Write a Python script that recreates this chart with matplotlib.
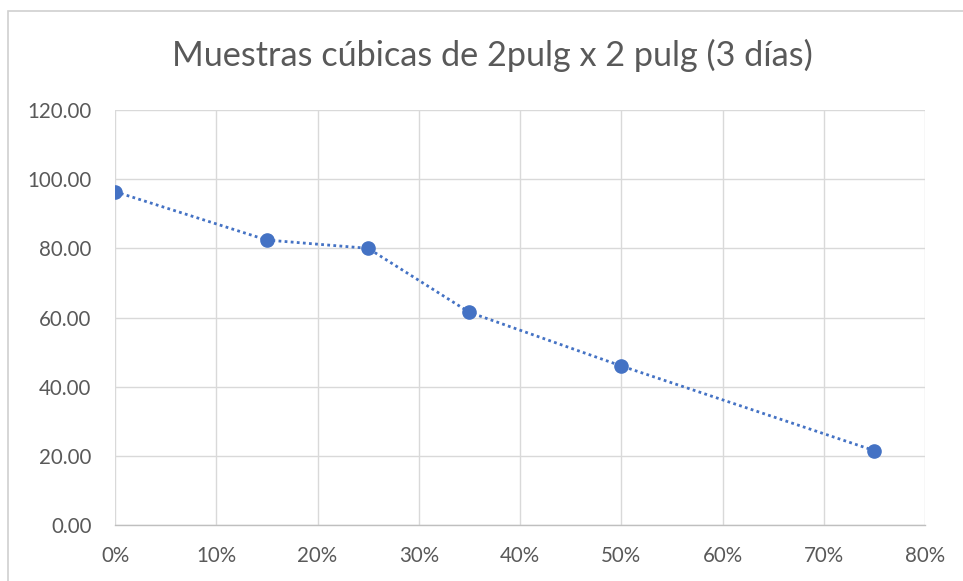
import matplotlib
matplotlib.use("Agg")
import matplotlib.pyplot as plt
from matplotlib.patches import Rectangle
from matplotlib.ticker import FuncFormatter

# Data: share of replacement (x) vs. compressive strength (y)
replacement = [0.00, 0.15, 0.25, 0.35, 0.50, 0.75]
strength = [96.4, 82.4, 80.0, 61.5, 46.0, 21.5]

title = "Muestras cúbicas de 2pulg x 2 pulg (3 días)"
x_ticks = [0.0, 0.1, 0.2, 0.3, 0.4, 0.5, 0.6, 0.7, 0.8]
y_ticks = [0, 20, 40, 60, 80, 100, 120]

text_color = "#595959"
grid_color = "#d9d9d9"
series_color = "#4472c4"

plt.rcParams["font.family"] = ["Lato", "DejaVu Sans"]

fig = plt.figure(figsize=(9.63, 5.81), dpi=100)
fig.patch.set_facecolor("white")

# chart frame
fig.patches.append(Rectangle((8 / 963, -0.05), 1.2, 1 - 11 / 581 + 0.05,
                             transform=fig.transFigure, fill=False,
                             edgecolor="#d0d0d0", linewidth=1.2))

ax = fig.add_axes([115 / 963, 1 - 525 / 581, (925 - 115) / 963, (525 - 110) / 581])
ax.plot(replacement, strength, linestyle=(0, (1, 1.2)), linewidth=2.0,
        color=series_color, marker="o", markersize=9.5,
        markerfacecolor=series_color, markeredgecolor=series_color, zorder=3)

ax.set_xlim(x_ticks[0], x_ticks[-1])
ax.set_ylim(y_ticks[0], y_ticks[-1])
ax.set_xticks(x_ticks)
ax.set_yticks(y_ticks)
ax.xaxis.set_major_formatter(FuncFormatter(lambda v, _: f"{v * 100:.0f}%"))
ax.yaxis.set_major_formatter(FuncFormatter(lambda v, _: f"{v:.2f}"))
ax.grid(True, color=grid_color, linewidth=1.0)
ax.set_axisbelow(True)

for side in ("top", "right", "left"):
    ax.spines[side].set_visible(False)
ax.spines["bottom"].set_color("#bfbfbf")
ax.spines["bottom"].set_linewidth(1.0)

ax.tick_params(axis="both", length=0, labelsize=14.8, labelcolor=text_color)
ax.tick_params(axis="x", pad=15)
ax.tick_params(axis="y", pad=17)

fig.text(492 / 963, 1 - 55 / 581, title, ha="center", va="center",
         fontsize=24.7, color=text_color)

fig.savefig("out.png", dpi=100)
